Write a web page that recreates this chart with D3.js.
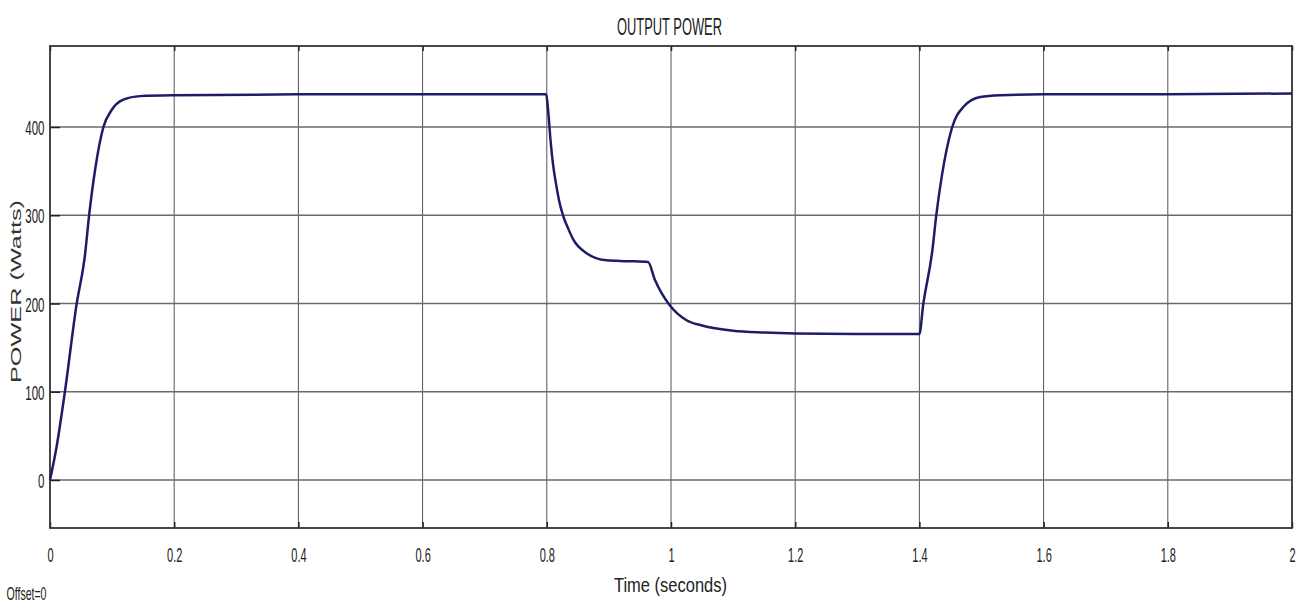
<!DOCTYPE html>
<html>
<head>
<meta charset="utf-8">
<script src="https://cdn.jsdelivr.net/npm/d3@7"></script>
<style>
  html, body { margin: 0; padding: 0; background: #ffffff; }
  svg { display: block; }
  text { font-family: "Liberation Sans", Arial, sans-serif; }
</style>
</head>
<body>
<svg id="chart" width="1307" height="603"></svg>
<script>
// Output power of the system over a 2 s run
const timeSec = [0, 0.0107, 0.024, 0.043, 0.056, 0.063, 0.0725, 0.086, 0.099, 0.118, 0.145, 0.2, 0.4, 0.6, 0.799,
  0.802, 0.806, 0.81, 0.815, 0.82, 0.827, 0.835, 0.843, 0.864, 0.896, 0.93, 0.963, 0.974, 0.998, 1.025, 1.05,
  1.1, 1.15, 1.2, 1.3, 1.4,
  1.406, 1.421, 1.427, 1.436, 1.452, 1.471, 1.498, 1.53, 1.6, 1.8, 2.0];
const powerW = [0, 38, 100, 200, 253, 300, 351, 400, 419, 431, 435, 436, 437, 437, 437,
  420, 385, 358, 335, 316, 298, 284, 272, 257, 249, 248, 247, 227, 198, 181, 175,
  169, 167, 166, 165.5, 165.5,
  198, 261, 299, 344, 398, 423, 434, 436, 437, 437, 438];

const xTicks = [0, 0.2, 0.4, 0.6, 0.8, 1, 1.2, 1.4, 1.6, 1.8, 2];
const xTickLabels = ["0", "0.2", "0.4", "0.6", "0.8", "1", "1.2", "1.4", "1.6", "1.8", "2"];
const yTicks = [0, 100, 200, 300, 400];
const yTickLabels = ["0", "100", "200", "300", "400"];
const xDomain = [0, 2];
const yDomain = [-54.4, 491.8];

const titleText = "OUTPUT POWER";
const xTitle = "Time (seconds)";
const yTitle = "POWER (Watts)";
const offsetText = "Offset=0";

const svg = d3.select("#chart");
const plot = { left: 50, right: 1292, top: 46, bottom: 528 };
const squeeze = 0.55; // horizontal condensing of the scope lettering

const x = d3.scaleLinear().domain(xDomain).range([plot.left, plot.right]);
const y = d3.scaleLinear().domain(yDomain).range([plot.bottom, plot.top]);

// grid
const grid = svg.append("g");
grid.selectAll("line.vx").data(xTicks.slice(1, -1)).join("line")
  .attr("x1", d => x(d)).attr("x2", d => x(d))
  .attr("y1", plot.top).attr("y2", plot.bottom)
  .attr("stroke", "#555").attr("stroke-width", 1);
grid.selectAll("line.hy").data(yTicks).join("line")
  .attr("x1", plot.left).attr("x2", plot.right)
  .attr("y1", d => y(d)).attr("y2", d => y(d))
  .attr("stroke", "#6a6a6a").attr("stroke-width", 1.4);

// axes (ticks drawn inward, labels outside)
const xAxis = d3.axisBottom(x).tickValues(xTicks).tickSize(-6).tickPadding(0)
  .tickFormat((d, i) => xTickLabels[i]);
const gx = svg.append("g").attr("transform", `translate(0,${plot.bottom})`).call(xAxis);
const yAxis = d3.axisLeft(y).tickValues(yTicks).tickSize(-10).tickPadding(0)
  .tickFormat((d, i) => yTickLabels[i]);
const gy = svg.append("g").attr("transform", `translate(${plot.left},0)`).call(yAxis);
const xTop = d3.axisTop(x).tickValues(xTicks).tickSize(-5).tickFormat("");
const gt = svg.append("g").attr("transform", `translate(0,${plot.top})`).call(xTop);

[gx, gy, gt].forEach(g => {
  g.select(".domain").remove();
  g.selectAll(".tick line").attr("stroke", "#222").attr("stroke-width", 1.5);
});
gx.selectAll(".tick text")
  .attr("font-size", 20).attr("fill", "#222")
  .attr("y", 0).attr("dy", 0)
  .attr("transform", `translate(0,34) scale(${squeeze},1)`);
gy.selectAll(".tick text")
  .attr("font-size", 21).attr("fill", "#222")
  .attr("x", 0).attr("dy", "0.36em")
  .attr("transform", `translate(-5.5,0) scale(${squeeze},1)`);

// frame
svg.append("rect")
  .attr("x", plot.left).attr("y", plot.top)
  .attr("width", plot.right - plot.left).attr("height", plot.bottom - plot.top)
  .attr("fill", "none").attr("stroke", "#333").attr("stroke-width", 1.8);

// power trace
const pts = timeSec.map((t, i) => [t, powerW[i]]);
const line = d3.line().x(d => x(d[0])).y(d => y(d[1])).curve(d3.curveMonotoneX);
svg.append("path").datum(pts)
  .attr("d", line)
  .attr("fill", "none")
  .attr("stroke", "#1d1d66")
  .attr("stroke-width", 2.5)
  .attr("stroke-linejoin", "round");

// titles
svg.append("text")
  .attr("x", 617).attr("y", 35)
  .attr("font-size", 23).attr("fill", "#222")
  .attr("textLength", 105).attr("lengthAdjust", "spacingAndGlyphs")
  .text(titleText);
svg.append("text")
  .attr("x", 614).attr("y", 592)
  .attr("font-size", 20).attr("fill", "#222")
  .attr("textLength", 113).attr("lengthAdjust", "spacingAndGlyphs")
  .text(xTitle);
svg.append("text")
  .attr("transform", `translate(21,383) rotate(-90)`)
  .attr("font-size", 14).attr("fill", "#333")
  .attr("textLength", 183).attr("lengthAdjust", "spacingAndGlyphs")
  .text(yTitle);
svg.append("text")
  .attr("x", 6.5).attr("y", 600)
  .attr("font-size", 19).attr("fill", "#222")
  .attr("textLength", 40).attr("lengthAdjust", "spacingAndGlyphs")
  .text(offsetText);
</script>
</body>
</html>
